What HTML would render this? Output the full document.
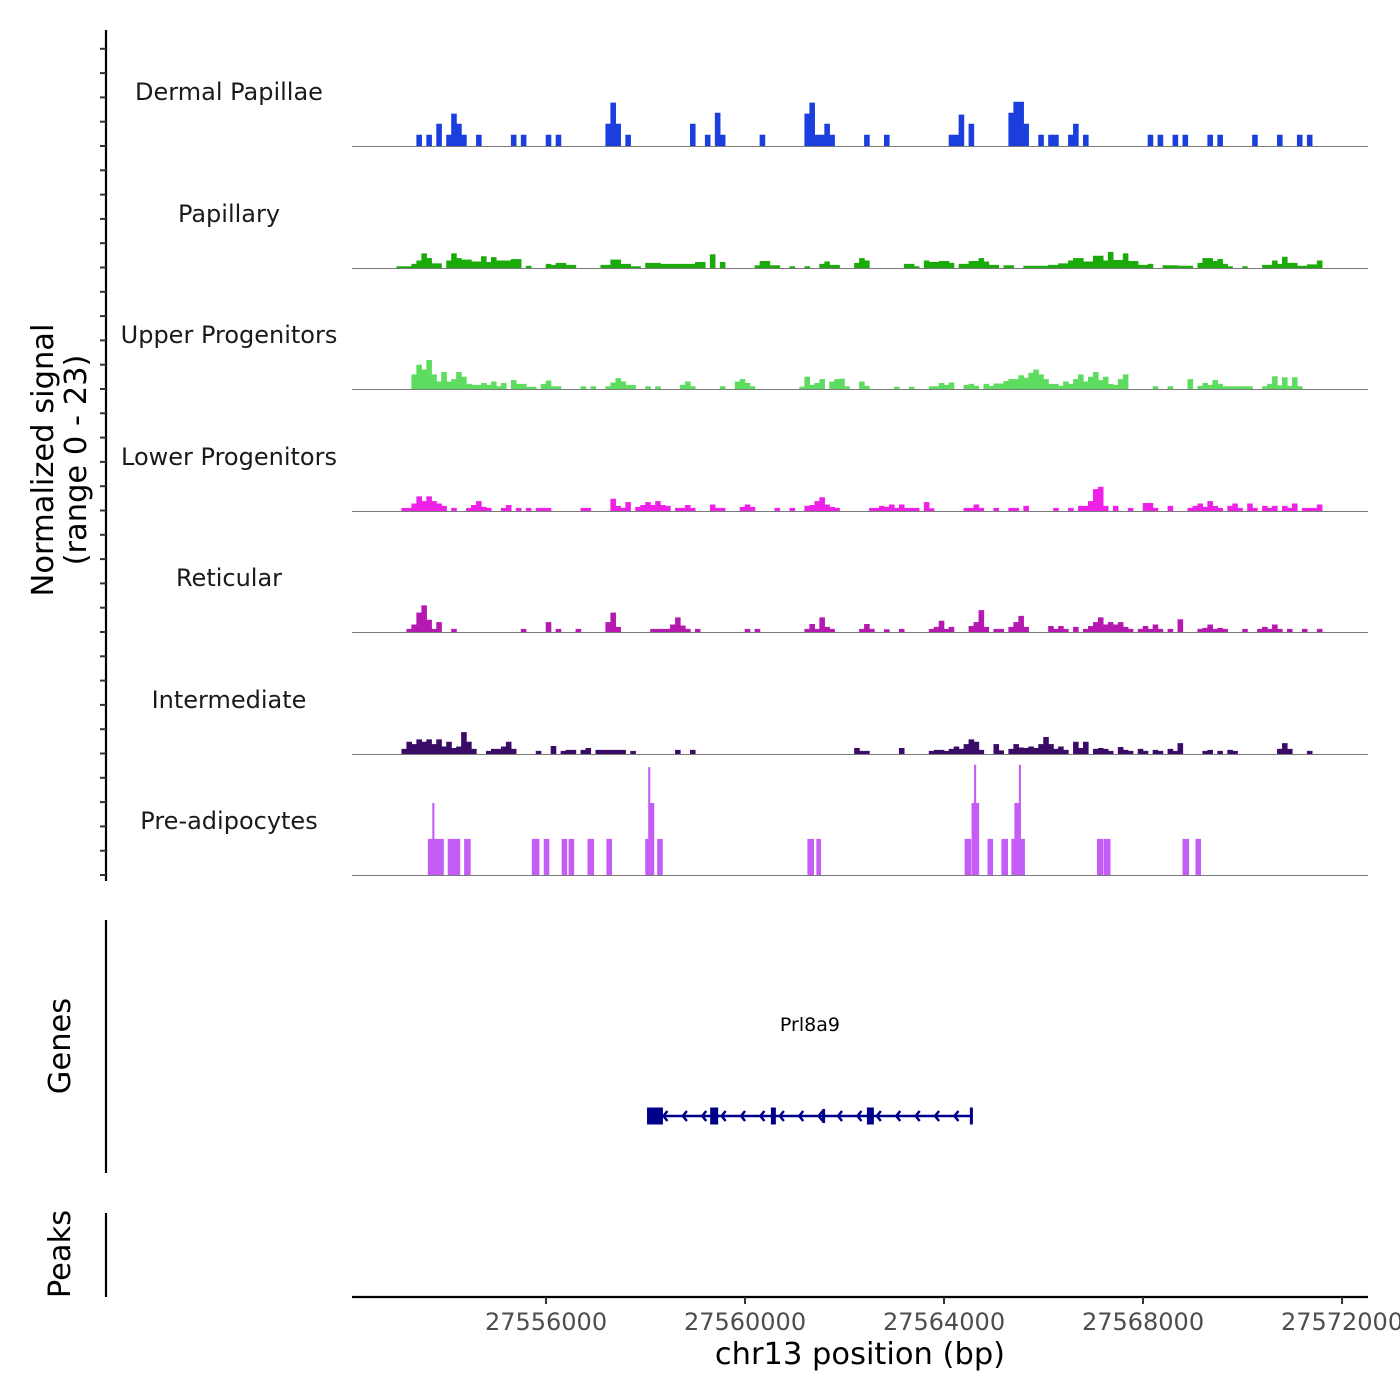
<!DOCTYPE html>
<html>
<head>
<meta charset="utf-8">
<style>
  html, body { margin:0; padding:0; background:#fff; }
  svg { display:block; font-family:"DejaVu Sans","Liberation Sans",sans-serif; }
</style>
</head>
<body>
<svg id="chart" width="1400" height="1400" viewBox="0 0 1400 1400" xmlns="http://www.w3.org/2000/svg"></svg>
<script>
// ---- data ----
const regionStart = 27552100;   // bp at left edge
const binSize = 100;            // bp per bin
const regionEnd = 27572523;
const xTicks = [27556000, 27560000, 27564000, 27568000, 27572000];
const xTickLabels = ["27556000", "27560000", "27564000", "27568000", "27572000"];
const trackNames = ["Dermal Papillae","Papillary","Upper Progenitors","Lower Progenitors","Reticular","Intermediate","Pre-adipocytes"];
const trackColors = ["#1a3fde","#1aab0b","#5ddc60","#ee22e6","#b519b0","#3a0c68","#c45cf6"];
const yMax = 23;

// runs: [startBin, endBin, signal]
const dermalPapillae = [[13,14,2.3],[15,16,2.3],[17,18,4.6],[19,20,2.3],[20,21,6.7],[21,22,4.6],[22,23,2.3],[25,26,2.3],[32,33,2.3],[34,35,2.3],[39,40,2.3],[41,42,2.3],[51,52,4.6],[52,53,9],[53,54,4.6],[55,56,2.3],[68,69,4.6],[71,72,2.3],[73,74,6.9],[74,75,2.3],[82,83,2.3],[91,92,6.7],[92,93,9],[93,95,2.3],[95,96,4.6],[96,97,2.3],[103,104,2.3],[107,108,2.3],[120,121,2.3],[121,122,2.3],[122,123,6.5],[124,125,4.6],[132,133,6.9],[133,134,9.2],[134,135,9.2],[135,136,4.6],[138,139,2.3],[140,141,2.3],[141,142,2.3],[144,145,2.3],[145,146,4.6],[147,148,2.3],[160,161,2.3],[162,163,2.3],[165,166,2.3],[167,168,2.3],[172,173,2.3],[174,175,2.3],[181,182,2.3],[186,187,2.3],[190,191,2.3],[192,193,2.3]];
const papillary = [[9,12,0.3],[12,13,0.8],[13,14,1.5],[14,15,3],[15,16,2],[16,18,0.9],[19,20,1.5],[20,21,3],[21,22,2],[22,24,1.7],[24,26,1.3],[26,27,2.4],[27,28,1.2],[28,29,2.2],[29,32,1.5],[32,34,1.8],[35,36,0.4],[39,40,0.8],[40,41,0.6],[41,43,1],[43,45,0.6],[50,52,0.6],[52,54,1.7],[54,56,0.8],[56,58,0.3],[59,62,1],[62,65,0.8],[65,69,0.8],[69,71,1.2],[72,73,2.8],[74,75,1.2],[81,82,0.5],[82,84,1.4],[84,86,0.5],[88,89,0.3],[91,92,0.3],[94,95,0.8],[95,96,1.3],[96,98,0.6],[101,102,1],[102,103,2],[103,104,1.5],[111,113,0.8],[113,114,0.3],[115,116,1.5],[116,118,1.2],[118,120,1.4],[120,121,1],[122,124,0.8],[124,126,1.4],[126,127,2],[127,128,1.3],[128,130,0.6],[131,133,0.5],[135,140,0.4],[140,142,0.6],[142,144,0.9],[144,145,1.5],[145,147,2],[147,149,1.3],[149,151,2.5],[151,152,1.5],[152,153,3.3],[153,155,1.6],[155,156,3],[156,158,1.4],[158,160,0.6],[160,161,0.8],[163,166,0.5],[166,169,0.4],[170,171,1],[171,173,2],[173,174,1.4],[174,175,1.8],[175,176,0.8],[176,177,0.3],[179,180,0.3],[183,185,0.6],[185,186,1.5],[186,187,0.8],[187,188,2.3],[188,190,1],[190,192,0.4],[192,194,0.7],[194,195,1.5]];
const upperProgenitors = [[12,13,3],[13,14,5],[14,15,4],[15,16,6],[16,17,3],[17,18,1.5],[18,19,3.5],[19,20,1.5],[20,21,2],[21,22,3.5],[22,23,2.5],[23,24,1],[24,26,0.8],[26,27,1.2],[27,28,0.8],[28,29,1.5],[29,30,0.5],[30,31,1.2],[32,33,1.8],[33,35,1],[35,37,0.4],[38,39,1],[39,40,1.7],[40,42,0.5],[46,47,0.5],[48,49,0.5],[51,52,0.5],[52,53,1.3],[53,54,2.2],[54,55,1.5],[55,57,0.8],[59,60,0.5],[61,62,0.5],[66,67,0.8],[67,68,1.5],[68,69,0.5],[74,75,0.5],[77,78,1.5],[78,79,2],[79,80,1.2],[80,81,0.5],[90,91,0.4],[91,92,2.5],[92,93,0.8],[93,94,1.2],[94,95,2],[96,97,1.5],[97,98,2],[98,99,2.1],[99,100,0.5],[102,103,1.5],[103,104,0.6],[109,110,0.4],[112,113,0.4],[116,118,0.5],[118,119,1.2],[119,120,0.8],[120,121,1.3],[123,124,0.8],[124,125,1],[125,126,0.6],[127,128,1],[128,129,0.6],[129,131,1.1],[131,132,1.6],[132,134,2],[134,135,2.8],[135,136,2.3],[136,137,3.3],[137,138,4],[138,139,3],[139,140,2],[140,142,1],[142,143,0.6],[143,144,1.5],[144,145,1],[145,146,2],[146,147,3],[147,148,1.5],[148,149,2.5],[149,150,3.5],[150,151,1.8],[151,152,2.5],[152,153,1],[153,154,0.8],[154,155,2],[155,156,3],[161,162,0.5],[164,165,0.5],[168,169,2],[170,171,0.6],[171,172,1.2],[172,173,0.8],[173,174,1.8],[174,175,1],[175,178,0.5],[178,181,0.5],[183,184,0.5],[184,185,1],[185,186,2.6],[186,187,0.7],[187,188,2.4],[188,189,0.6],[189,190,2.4],[190,191,0.5]];
const lowerProgenitors = [[10,12,0.6],[12,13,1.5],[13,14,3],[14,15,2],[15,16,3],[16,17,2],[17,18,1.5],[18,19,1],[20,21,0.6],[23,24,0.6],[24,25,1.2],[25,26,2],[26,27,0.8],[27,28,0.6],[30,31,0.6],[31,32,1.2],[33,34,0.6],[35,36,0.6],[37,38,0.6],[38,39,0.6],[39,40,0.6],[46,48,0.6],[52,53,2.5],[53,54,1],[54,55,0.6],[55,56,1.8],[57,58,0.8],[58,59,1.2],[59,60,1.8],[60,61,1.2],[61,62,2],[62,63,1.2],[63,64,1],[65,66,0.6],[66,67,0.6],[67,68,1.2],[68,69,0.6],[72,73,1.3],[73,75,0.6],[78,79,0.8],[79,80,1.3],[80,81,0.8],[85,86,0.6],[88,89,0.6],[91,92,1],[92,93,1.2],[93,94,2],[94,95,2.8],[95,96,1.3],[96,97,0.8],[97,98,0.6],[104,105,0.6],[105,106,0.6],[106,107,1],[107,108,0.8],[108,109,1.3],[109,110,0.6],[110,111,1.3],[111,114,0.6],[115,116,1.8],[116,117,0.5],[123,125,0.6],[125,126,1.3],[126,127,0.6],[129,130,0.6],[132,133,0.6],[133,134,0.6],[135,136,1],[141,142,0.6],[144,145,0.6],[146,147,1],[147,148,1],[148,149,2],[149,150,4.5],[150,151,5],[151,152,1],[153,154,1],[156,157,0.6],[159,160,1.6],[160,161,1.6],[161,162,0.6],[164,165,1],[168,169,0.6],[169,170,1],[170,171,1.5],[171,172,0.8],[172,173,2],[173,174,1],[174,175,0.6],[176,177,1],[177,178,1.5],[178,179,0.6],[180,181,1.5],[181,182,0.6],[183,184,1],[184,185,0.6],[185,186,1],[187,188,1],[188,189,0.6],[189,190,1.5],[191,194,0.6],[194,195,1.3]];
const reticular = [[11,12,0.6],[12,13,1.5],[13,14,4],[14,15,5.5],[15,16,2.5],[16,17,0.6],[17,18,2],[20,21,0.6],[34,35,0.6],[39,40,2],[41,42,0.6],[45,46,0.6],[51,52,2],[52,53,4],[53,54,1],[60,61,0.6],[61,64,0.6],[64,65,1.5],[65,66,3],[66,67,1.3],[67,68,0.6],[69,70,0.6],[79,80,0.6],[81,82,0.6],[91,92,0.6],[92,93,1.6],[93,94,0.6],[94,95,3],[95,96,1],[96,97,0.6],[102,103,0.6],[103,104,1.6],[104,105,0.6],[107,108,0.5],[110,111,0.6],[116,117,0.6],[117,118,1],[118,119,2.3],[119,120,0.6],[120,121,1],[124,125,1.2],[125,126,2],[126,127,4.5],[127,128,1],[129,131,0.6],[132,133,1],[133,134,2],[134,135,3.3],[135,136,1],[140,141,1.2],[141,142,0.6],[142,143,1.2],[143,144,0.6],[145,146,1],[147,148,0.6],[148,149,1.2],[149,150,2],[150,151,3],[151,152,1.5],[152,153,2],[153,154,1.5],[154,155,2],[155,156,1],[156,157,0.6],[158,159,0.6],[159,160,1.2],[160,161,0.6],[161,162,1.5],[162,163,0.6],[164,165,0.6],[166,167,2.6],[170,171,0.6],[171,172,0.8],[172,173,1.5],[173,174,0.6],[174,175,0.8],[175,176,0.6],[179,180,0.6],[182,183,0.6],[183,184,1],[184,185,0.6],[185,186,1.5],[186,187,0.6],[188,189,0.6],[191,192,0.6],[194,195,0.6]];
const intermediate = [[10,11,1],[11,12,2.5],[12,13,2],[13,14,3],[14,15,2.5],[15,16,3],[16,17,2],[17,18,3],[18,19,1.5],[19,20,2.5],[20,21,1.2],[21,22,1.5],[22,23,4.5],[23,24,2.5],[24,25,1],[27,28,0.6],[28,30,1],[30,31,1.5],[31,32,2.5],[32,33,1],[37,38,0.6],[40,41,1.6],[42,43,0.6],[43,44,0.8],[44,45,0.8],[46,47,0.8],[47,48,1.2],[49,55,0.8],[56,57,0.6],[65,66,0.8],[68,69,0.8],[101,102,1.2],[102,103,0.6],[103,104,0.6],[110,111,1.2],[116,117,0.6],[117,118,0.8],[118,119,0.8],[119,120,0.6],[120,121,1],[121,122,1.5],[122,123,1],[123,124,2],[124,125,3],[125,126,2.5],[126,127,0.8],[129,130,2],[130,131,0.7],[132,133,1],[133,134,2],[134,135,1.3],[135,136,1.2],[136,137,1.5],[137,138,1.2],[138,139,2],[139,140,3.5],[140,141,2],[141,142,1],[142,143,1.5],[143,144,0.8],[145,146,2.5],[146,147,1.2],[147,148,2.5],[149,150,1],[150,151,1.2],[151,152,1],[152,153,0.6],[154,155,1.4],[155,156,0.8],[156,157,0.6],[158,159,1],[159,160,0.6],[161,162,0.8],[162,163,0.6],[164,165,1],[165,166,0.6],[166,167,2.2],[171,172,0.6],[172,173,0.8],[174,175,0.6],[176,177,0.8],[177,178,0.6],[186,187,1],[187,188,2.2],[188,189,1],[192,193,0.6]];
const preAdipocytes = [[15.3,18.4,7.5],[16.2,16.5,15],[19.3,21.7,7.5],[22.6,23.8,7.5],[36.2,37.6,7.5],[38.6,39.6,7.5],[42.2,43.2,7.5],[43.6,44.6,7.5],[47.4,48.6,7.5],[51.2,52.2,7.5],[59,59.6,7.5],[59.6,59.9,22.5],[59.9,60.7,15],[61.4,62.4,7.5],[91.6,92.8,7.5],[93.4,94.2,7.5],[123.2,124.4,7.5],[124.6,126,15],[125.1,125.4,23],[127.8,128.8,7.5],[130.6,131.8,7.5],[132.6,135.2,7.5],[133.2,134.4,15],[134.1,134.4,23],[149.8,151,7.5],[151.2,152.4,7.5],[167,168.2,7.5],[169.6,170.6,7.5]];
const tracks = [dermalPapillae, papillary, upperProgenitors, lowerProgenitors, reticular, intermediate, preAdipocytes];

// gene model (bp)
const geneName = "Prl8a9";
const geneStart = 27558030, geneEnd = 27564580;
const exonStarts = [27558030, 27559300, 27560520, 27561550, 27562450, 27564520];
const exonEnds   = [27558350, 27559460, 27560620, 27561610, 27562590, 27564580];
const exonTall   = [true, true, true, false, true, true];

// ---- layout ----
const NS = "http://www.w3.org/2000/svg";
const svg = document.getElementById("chart");
const plotL = 352, plotR = 1368;
const pxPerBin = 4.975;
const trackBase = [146, 268, 389, 511, 632, 754, 875];
const pxPerUnit = 110 / yMax;
function xScale(bp){ return plotL + (bp - regionStart) / binSize * pxPerBin; }
function binX(b){ return xScale(regionStart + b * binSize); }
function mk(tag, attrs, parent){
  const e = document.createElementNS(NS, tag);
  for (const k in attrs) e.setAttribute(k, attrs[k]);
  (parent || svg).appendChild(e);
  return e;
}
function txt(s, attrs, parent){ const t = mk("text", attrs, parent); t.textContent = s; return t; }

// tracks
tracks.forEach((runs, ti) => {
  const g = mk("g", {});
  
  
  const base = trackBase[ti];
  let d = "";
  runs.forEach(r => {
    const x0 = binX(r[0]), x1 = binX(r[1]);
    const h = r[2] * pxPerUnit;
    d += `M${x0.toFixed(2)},${base}L${x0.toFixed(2)},${(base-h).toFixed(2)}L${x1.toFixed(2)},${(base-h).toFixed(2)}L${x1.toFixed(2)},${base}Z`;
  });
  const p = mk("path", {d: d, fill: trackColors[ti], stroke: trackColors[ti], "stroke-width": 0.6}, g);
  
  
  const bl = mk("line", {x1: plotL, x2: plotR, y1: base + 0.5, y2: base + 0.5, stroke: "#7a7a7a", "stroke-width": 1}, g);
  
  
  const lab = txt(trackNames[ti], {x: 229, y: base - 46, "text-anchor": "middle", "font-size": 24, fill: "#1a1a1a"});
  
  
});

// left signal axis
const la = mk("line", {x1: 106, x2: 106, y1: 30, y2: 881, stroke: "#000", "stroke-width": 2.2});


for (let y = 875; y >= 30; y -= 24.3) {
  const t = mk("line", {x1: 100, x2: 106, y1: y, y2: y, stroke: "#333", "stroke-width": 2});
  
  
}
const yt = mk("text", {transform: "translate(53,460) rotate(-90)", "text-anchor": "middle", "font-size": 30.5, fill: "#000"});


const ts1 = mk("tspan", {x: 0, dy: 0}, yt); ts1.textContent = "Normalized signal";
const ts2 = mk("tspan", {x: 0, dy: 33}, yt); ts2.textContent = "(range 0 - 23)";

// genes panel
const ga = mk("line", {x1: 106, x2: 106, y1: 920, y2: 1173, stroke: "#000", "stroke-width": 2.2});


const gt = txt("Genes", {transform: "translate(70,1046) rotate(-90)", "text-anchor": "middle", "font-size": 30.5, fill: "#000"});


const gg = mk("g", {});


const gy = 1116;
mk("line", {x1: xScale(geneStart), x2: xScale(geneEnd), y1: gy, y2: gy, stroke: "#00008b", "stroke-width": 2.5}, gg);
exonStarts.forEach((s, i) => {
  const x0 = xScale(s), x1 = Math.max(xScale(exonEnds[i]), x0 + 2);
  const hh = exonTall[i] ? 8.5 : 7;
  const r = mk("rect", {x: x0, y: gy - hh, width: x1 - x0, height: hh * 2, fill: "#00008b"}, gg);
  
  
});
for (let bp = geneStart + 330; bp < geneEnd - 50; bp += 390) {
  const x = xScale(bp);
  mk("path", {d: `M${x+4},${gy-5}L${x},${gy}L${x+4},${gy+5}`, fill: "none", stroke: "#00008b", "stroke-width": 2.5}, gg);
}
const gn = txt(geneName, {x: xScale((geneStart + geneEnd) / 2), y: 1031, "text-anchor": "middle", "font-size": 19, fill: "#000"});



// peaks panel
const pa = mk("line", {x1: 106, x2: 106, y1: 1213, y2: 1297, stroke: "#000", "stroke-width": 2.2});


const pt = txt("Peaks", {transform: "translate(70,1254) rotate(-90)", "text-anchor": "middle", "font-size": 30.5, fill: "#000"});



// x axis
const xa = mk("line", {x1: plotL, x2: plotR, y1: 1297, y2: 1297, stroke: "#000", "stroke-width": 2.2});


xTicks.forEach((v, i) => {
  const x = xScale(v);
  const tk = mk("line", {x1: x, x2: x, y1: 1297, y2: 1304, stroke: "#333", "stroke-width": 2});
  
  
  const tl = txt(xTickLabels[i], {x: x, y: 1330, "text-anchor": "middle", "font-size": 24, fill: "#4d4d4d"});
  
  
});
const xt = txt("chr13 position (bp)", {x: 860, y: 1364, "text-anchor": "middle", "font-size": 30.5, fill: "#000"});


</script>
</body>
</html>
